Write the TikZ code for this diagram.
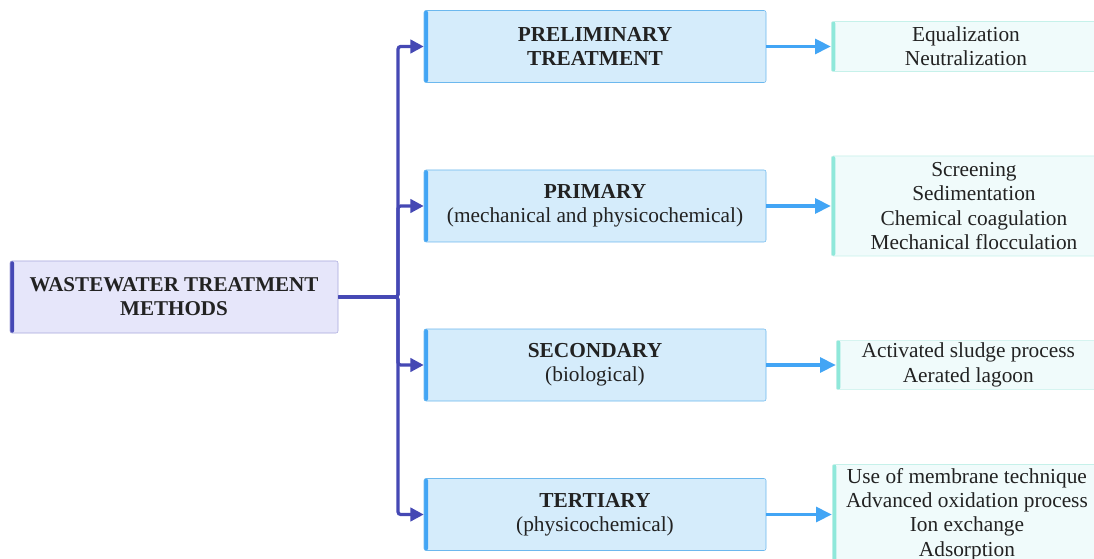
\documentclass[tikz,border=0pt]{standalone}
\usepackage{fontspec}
\setmainfont{Liberation Serif}
\usetikzlibrary{positioning, arrows.meta}

\definecolor{trunkblue}{HTML}{4548B4}
\definecolor{mainfill}{HTML}{E6E6FA}
\definecolor{mainedge}{HTML}{A8A8DC}
\definecolor{catfill}{HTML}{D5ECFB}
\definecolor{catedge}{HTML}{6CB8EE}
\definecolor{catbar}{HTML}{42A5F5}
\definecolor{leaffill}{HTML}{F0FBFB}
\definecolor{leafedge}{HTML}{C6F1EA}
\definecolor{leafbar}{HTML}{8FE8DA}
\definecolor{inkgray}{HTML}{222222}

\tikzset{
  sidebar/.style={path picture={\fill[#1] (path picture bounding box.south west) rectangle ([xshift=3pt]path picture bounding box.north west);}},
  mainbox/.style={draw=mainedge, fill=mainfill, sidebar=trunkblue, rounded corners=1.5pt,
    minimum width=246pt, minimum height=54pt, align=center, text=inkgray,
    font=\fontsize{15.8}{18}\selectfont\bfseries},
  catbox/.style={draw=catedge, fill=catfill, sidebar=catbar, rounded corners=1.5pt,
    minimum width=256.5pt, minimum height=54pt, align=center, text=inkgray,
    font=\fontsize{16}{18.2}\selectfont},
  leafbox/.style={draw=leafedge, fill=leaffill, sidebar=leafbar, rounded corners=1.5pt,
    anchor=west, align=center, text=inkgray, inner sep=0pt,
    font=\fontsize{16}{18.2}\selectfont},
  trunkline/.style={draw=trunkblue, line width=2.4pt, rounded corners=2pt,
    -{Triangle[length=10pt, width=10pt]}},
  leafline/.style={draw=catbar, line width=2.7pt, -{Triangle[length=12pt, width=11pt]}}
}

\begin{document}
\begin{tikzpicture}[x=0.75pt, y=-0.75pt]
  \clip (0,0) rectangle (1094,559);
  \fill[white] (0,0) rectangle (1094,559);

  % root
  \node[mainbox] (root) at (174,297) {WASTEWATER TREATMENT\\METHODS};
  \coordinate (fork) at (398,297);

  % treatment stages
  \node[catbox] (prelim) at (595,46.5) {\textbf{PRELIMINARY}\\\textbf{TREATMENT}};
  \node[catbox] (primary) at (595,206) {\textbf{PRIMARY}\\(mechanical and physicochemical)};
  \node[catbox] (second) at (595,365) {\textbf{SECONDARY}\\(biological)};
  \node[catbox] (tert) at (595,514.5) {\textbf{TERTIARY}\\(physicochemical)};

  % processes
  \node[leafbox, minimum width=202pt, minimum height=37.5pt] (prelimleaf) at (831,46.5)
    {Equalization\\Neutralization};
  \node[leafbox, minimum width=214pt, minimum height=75pt] (primaryleaf) at (831,206)
    {Screening\\Sedimentation\\Chemical coagulation\\Mechanical flocculation};
  \node[leafbox, minimum width=198pt, minimum height=37pt] (secondleaf) at (836,365)
    {Activated sludge process\\Aerated lagoon};
  \node[leafbox, minimum width=202pt, minimum height=75pt] (tertleaf) at (832,514.5)
    {Use of membrane technique\\Advanced oxidation process\\Ion exchange\\Adsorption};

  % connectors
  \draw[trunkline] (root.east) -- (fork) |- (prelim.west);
  \draw[trunkline] (root.east) -- (fork) |- (primary.west);
  \draw[trunkline] (root.east) -- (fork) |- (second.west);
  \draw[trunkline] (root.east) -- (fork) |- (tert.west);

  \draw[leafline] (prelim.east) -- (prelimleaf.west);
  \draw[leafline] (primary.east) -- (primaryleaf.west);
  \draw[leafline] (second.east) -- (secondleaf.west);
  \draw[leafline] (tert.east) -- (tertleaf.west);
\end{tikzpicture}
\end{document}
